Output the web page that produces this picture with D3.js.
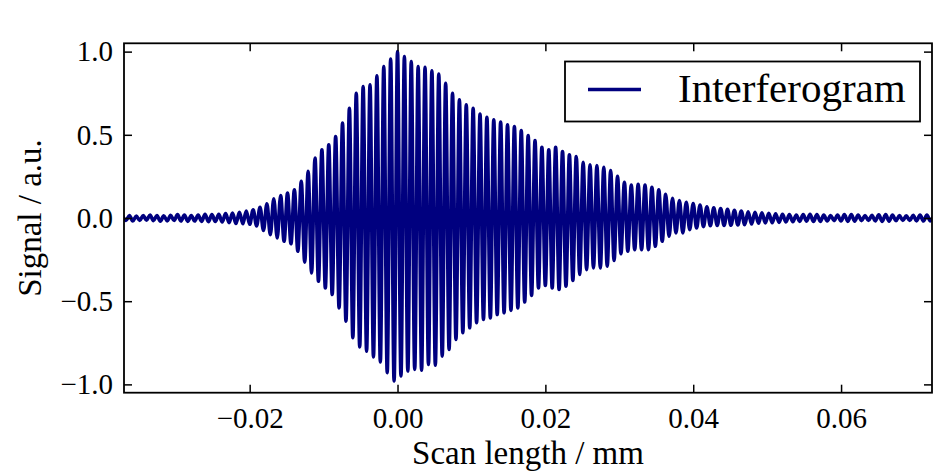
<!DOCTYPE html>
<html lang="en">
<head>
    <meta charset="UTF-8">
    <title>Interferogram</title>
    <script src="https://d3js.org/d3.v7.min.js"></script>
    <style>
        body {
            margin: 0;
            padding: 0;
            background-color: #ffffff;
        }
        svg {
            display: block;
            font-family: "Liberation Serif", "DejaVu Serif", serif;
        }
        .tick line {
            stroke: #000;
            stroke-width: 1.5;
        }
        .tick text {
            font-family: "Liberation Serif", "DejaVu Serif", serif;
            font-size: 29px;
            fill: #000;
        }
    </style>
</head>
<body>
    <svg width="933" height="472"></svg>
    <script>
        // fringe maxima and minima, one per half period
        const fringeStart = -0.0372;   // position of the first maximum (mm)
        const fringePeriod = 0.00093;  // mm

        const peakValues = [
            0.014, 0.015, 0.012, 0.015, 0.018, 0.015, 0.013, 0.016, 0.020, 0.018,
            0.015, 0.018, 0.022, 0.020, 0.022, 0.026, 0.030, 0.035, 0.042, 0.050,
            0.065, 0.085, 0.115, 0.135, 0.150, 0.170, 0.220, 0.280, 0.360, 0.410,
            0.440, 0.490, 0.570, 0.660, 0.750, 0.790, 0.800, 0.855, 0.910, 0.955,
            1.000, 0.970, 0.940, 0.910, 0.905, 0.885, 0.865, 0.810, 0.750, 0.710,
            0.680, 0.660, 0.625, 0.605, 0.590, 0.577, 0.560, 0.550, 0.525, 0.495,
            0.465, 0.425, 0.410, 0.425, 0.400, 0.380, 0.370, 0.335, 0.320, 0.315,
            0.305, 0.285, 0.250, 0.215, 0.198, 0.203, 0.198, 0.185, 0.170, 0.142,
            0.118, 0.105, 0.095, 0.087, 0.078, 0.068, 0.062, 0.057, 0.052, 0.046,
            0.042, 0.038, 0.035, 0.032, 0.028, 0.025, 0.022, 0.020, 0.018, 0.020,
            0.022, 0.020, 0.017, 0.015, 0.017, 0.020, 0.020, 0.017, 0.015, 0.016,
            0.019, 0.020, 0.017, 0.014, 0.013, 0.016, 0.018, 0.017, 0.016
        ];

        const troughValues = [
            -0.015, -0.018, -0.015, -0.013, -0.016, -0.019, -0.017, -0.015, -0.018, -0.020,
            -0.018, -0.020, -0.022, -0.021, -0.024, -0.028, -0.033, -0.035, -0.038, -0.048,
            -0.075, -0.100, -0.120, -0.140, -0.155, -0.200, -0.265, -0.330, -0.380, -0.420,
            -0.460, -0.540, -0.620, -0.720, -0.775, -0.800, -0.835, -0.865, -0.930, -0.980,
            -0.950, -0.920, -0.910, -0.915, -0.880, -0.885, -0.830, -0.790, -0.730, -0.690,
            -0.660, -0.630, -0.610, -0.600, -0.580, -0.570, -0.555, -0.540, -0.505, -0.465,
            -0.420, -0.405, -0.420, -0.430, -0.410, -0.375, -0.340, -0.310, -0.300, -0.300,
            -0.290, -0.255, -0.215, -0.200, -0.190, -0.190, -0.190, -0.170, -0.140, -0.110,
            -0.090, -0.090, -0.070, -0.060, -0.052, -0.047, -0.045, -0.045, -0.044, -0.042,
            -0.040, -0.036, -0.032, -0.030, -0.028, -0.026, -0.024, -0.022, -0.020, -0.019,
            -0.021, -0.020, -0.017, -0.016, -0.018, -0.020, -0.019, -0.016, -0.015, -0.017,
            -0.020, -0.019, -0.016, -0.014, -0.015, -0.017, -0.018, -0.017
        ];

        const xTicks = [-0.02, 0.00, 0.02, 0.04, 0.06];
        const yTicks = [-1.0, -0.5, 0.0, 0.5, 1.0];

        // maxima and minima alternate along the scan
        const points = [];
        peakValues.forEach((v, i) => {
            points.push({ x: fringeStart + i * fringePeriod, y: v });
            if (i < troughValues.length) {
                points.push({ x: fringeStart + (i + 0.5) * fringePeriod, y: troughValues[i] });
            }
        });

        const plotLeft = 124, plotRight = 932, plotTop = 43.3, plotBottom = 392.7;

        const x = d3.scaleLinear().domain([-0.037, 0.0723]).range([plotLeft, plotRight]);
        const y = d3.scaleLinear().domain([-1.05, 1.05]).range([plotBottom, plotTop]);

        const svg = d3.select("svg");

        svg.append("clipPath").attr("id", "plot-clip")
            .append("rect")
            .attr("x", plotLeft).attr("y", plotTop)
            .attr("width", plotRight - plotLeft).attr("height", plotBottom - plotTop);

        const line = d3.line()
            .x(d => x(d.x))
            .y(d => y(d.y))
            .curve(d3.curveMonotoneX);

        svg.append("path")
            .datum(points)
            .attr("clip-path", "url(#plot-clip)")
            .attr("fill", "none")
            .attr("stroke", "#00007f")
            .attr("stroke-width", 3.6)
            .attr("stroke-linejoin", "round")
            .attr("d", line);

        // axes, ticks pointing inwards on all four sides
        const xBottom = svg.append("g")
            .attr("transform", `translate(0,${plotBottom})`)
            .call(d3.axisBottom(x).tickValues(xTicks).tickSize(-8).tickFormat(d3.format(".2f")));
        xBottom.selectAll("text").attr("dy", null).attr("y", 35.5);

        svg.append("g")
            .attr("transform", `translate(0,${plotTop})`)
            .call(d3.axisTop(x).tickValues(xTicks).tickSize(-8).tickFormat(""));

        svg.append("g")
            .attr("transform", `translate(${plotLeft},0)`)
            .call(d3.axisLeft(y).tickValues(yTicks).tickSize(-8).tickPadding(11).tickFormat(d3.format(".1f")));

        svg.append("g")
            .attr("transform", `translate(${plotRight},0)`)
            .call(d3.axisRight(y).tickValues(yTicks).tickSize(-8).tickFormat(""));

        svg.selectAll(".domain").remove();

        svg.append("rect")
            .attr("x", plotLeft).attr("y", plotTop)
            .attr("width", plotRight - plotLeft).attr("height", plotBottom - plotTop)
            .attr("fill", "none")
            .attr("stroke", "#000")
            .attr("stroke-width", 1.8);

        // axis labels
        svg.append("text")
            .attr("x", (plotLeft + plotRight) / 2)
            .attr("y", 464)
            .attr("text-anchor", "middle")
            .attr("font-size", 33)
            .text("Scan length / mm");

        svg.append("text")
            .attr("transform", `translate(41,${(plotTop + plotBottom) / 2}) rotate(-90)`)
            .attr("text-anchor", "middle")
            .attr("font-size", 33)
            .text("Signal / a.u.");

        // legend
        const legend = svg.append("g");
        legend.append("rect")
            .attr("x", 565).attr("y", 61.5)
            .attr("width", 355).attr("height", 60)
            .attr("fill", "#fff")
            .attr("stroke", "#000")
            .attr("stroke-width", 1.8);
        legend.append("line")
            .attr("x1", 588).attr("x2", 641)
            .attr("y1", 89.5).attr("y2", 89.5)
            .attr("stroke", "#00007f")
            .attr("stroke-width", 3.5);
        legend.append("text")
            .attr("x", 678).attr("y", 101.5)
            .attr("font-size", 41)
            .text("Interferogram");
    </script>
</body>
</html>
